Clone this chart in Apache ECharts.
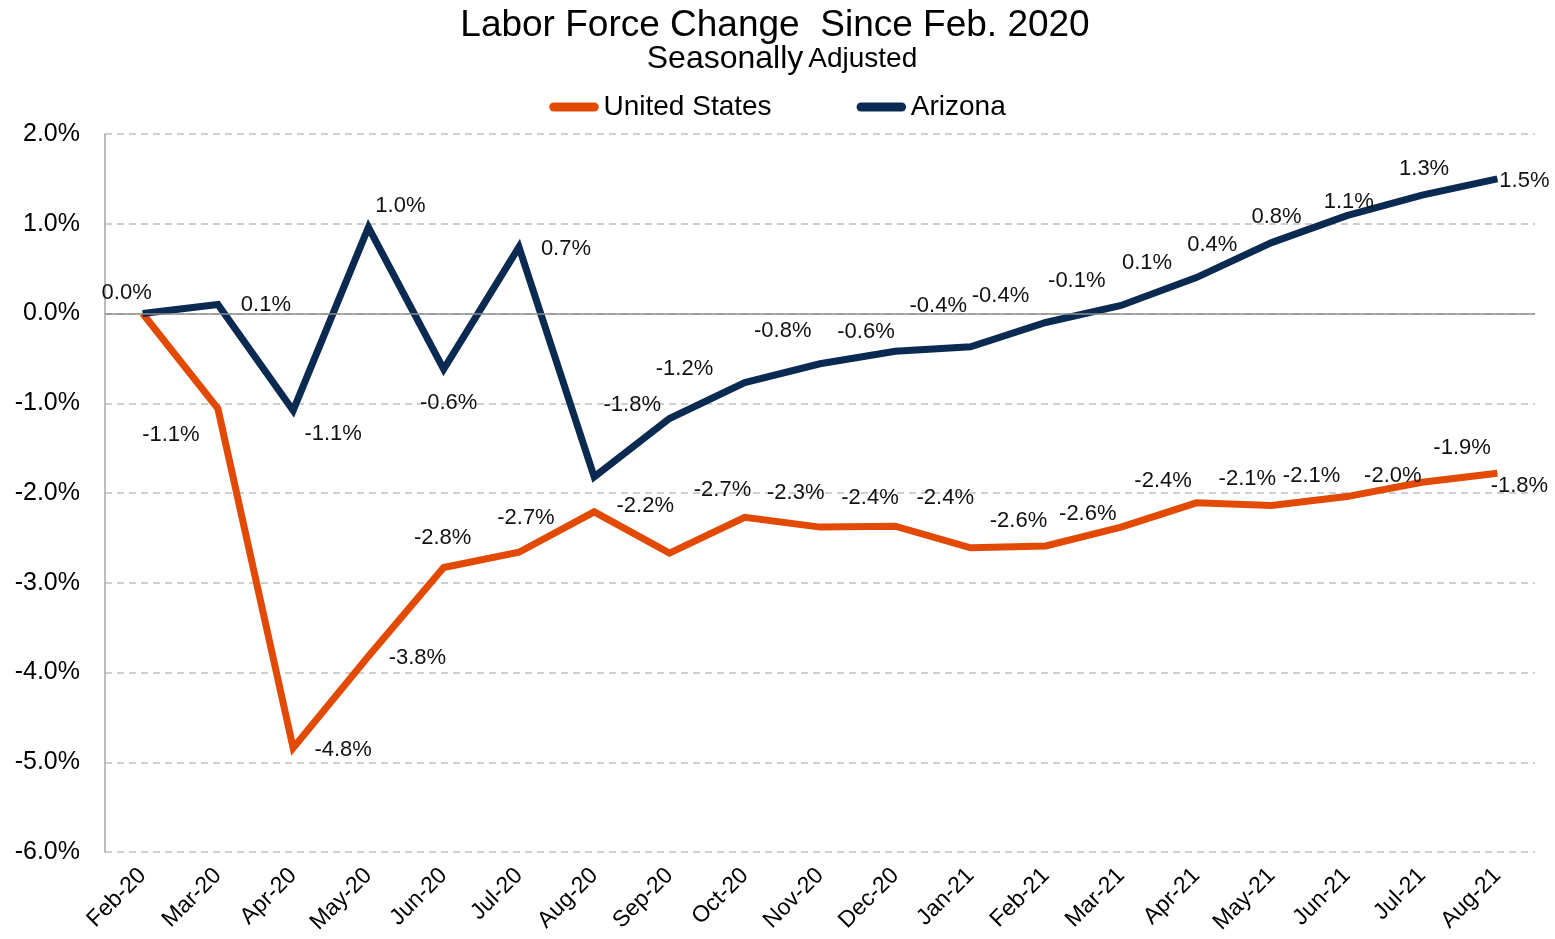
<!DOCTYPE html>
<html>
<head>
<meta charset="utf-8">
<script src="https://cdn.jsdelivr.net/npm/echarts@6/dist/echarts.min.js"></script>
<style>
  html, body { margin: 0; padding: 0; background: #fff; }
  #laborchart { width: 1555px; height: 939px; }
</style>
</head>
<body>
<div id="laborchart"></div>
<script>
var months = ['Feb-20', 'Mar-20', 'Apr-20', 'May-20', 'Jun-20', 'Jul-20', 'Aug-20', 'Sep-20', 'Oct-20', 'Nov-20',
    'Dec-20', 'Jan-21', 'Feb-21', 'Mar-21', 'Apr-21', 'May-21', 'Jun-21', 'Jul-21', 'Aug-21'];

// percent change in labor force since Feb. 2020
var usValues = [0, -1.06, -4.84, -3.82, -2.83, -2.66, -2.21, -2.67, -2.27, -2.38,
    -2.37, -2.61, -2.59, -2.38, -2.11, -2.14, -2.04, -1.88, -1.78];
var azValues = [0, 0.10, -1.08, 0.96, -0.62, 0.74, -1.82, -1.17, -0.77, -0.56,
    -0.42, -0.37, -0.10, 0.09, 0.40, 0.79, 1.09, 1.32, 1.50];

// where each data label sits, relative to its point (null = no label)
var usLabelOffsets = [null, [-47, 26], [50, 2], [49, 2], [-1, -30], [7, -34], [51, -6], [53, -63], [51, -24], [50, -29],
    [50, -28], [48, -27], [42, -32], [42, -46], [51, -24], [40, -30], [46, -21], [40, -34], [22, 13]];
var azLabelOffsets = [[-16, -21], [48, 0], [40, 24], [32, -21], [5, 34], [47, 2], [38, -72], [15, -50], [38, -52], [46, -32],
    [43, -45], [30, -51], [31, -42], [26, -42], [16, -33], [5, -26], [2, -14], [2, -26], [27, 2]];

var font = 'Liberation Sans, Arial, sans-serif';
var usColor = '#E24A04';
var azColor = '#0B2A52';

function withLabels(values, offsets) {
    return values.map(function (v, i) {
        var off = offsets[i];
        if (!off) {
            return { value: v, label: { show: false } };
        }
        return { value: v, label: { offset: off } };
    });
}

var chartDom = document.getElementById('laborchart');
var myChart = echarts.init(chartDom);
var option;

var pointLabel = {
    show: true,
    position: 'inside',
    align: 'center',
    verticalAlign: 'middle',
    fontFamily: font,
    fontSize: 22,
    color: '#111',
    formatter: function (p) {
        return p.value.toFixed(1) + '%';
    }
};

option = {
    animation: false,
    backgroundColor: '#fff',
    title: [
        {
            text: 'Labor Force Change  Since Feb. 2020',
            left: 770,
            top: 2,
            textAlign: 'center',
            textStyle: { fontFamily: font, fontSize: 37, fontWeight: 'normal', color: '#000' }
        },
        {
            text: '{a|Seasonally} {b|Adjusted}',
            left: 777,
            top: 38,
            textAlign: 'center',
            textStyle: {
                fontWeight: 'normal',
                rich: {
                    a: { fontFamily: font, fontSize: 32, fontWeight: 'normal', color: '#000' },
                    b: { fontFamily: font, fontSize: 28, fontWeight: 'normal', color: '#000' }
                }
            }
        }
    ],
    legend: {
        top: 88,
        left: 'center',
        itemWidth: 55,
        itemHeight: 9,
        itemGap: 85,
        icon: 'path://M5,0 L50,0 A5,5 0 0 1 50,10 L5,10 A5,5 0 0 1 5,0 Z',
        textStyle: { fontFamily: font, fontSize: 28, color: '#000', padding: [0, 0, 0, -3] },
        data: ['United States', 'Arizona']
    },
    grid: {
        left: 105,
        right: 20,
        top: 134,
        bottom: 87
    },
    xAxis: {
        type: 'category',
        data: months,
        boundaryGap: true,
        axisLine: { show: false },
        axisTick: { show: false },
        axisLabel: {
            rotate: 45,
            margin: 20,
            fontFamily: font,
            fontSize: 23,
            color: '#000'
        }
    },
    yAxis: {
        type: 'value',
        min: -6,
        max: 2,
        interval: 1,
        axisLine: { show: true, lineStyle: { color: '#A6A6A6', width: 1.5 } },
        axisTick: { show: false },
        axisLabel: {
            margin: 25,
            fontFamily: font,
            fontSize: 25,
            color: '#000',
            formatter: function (v) {
                return v.toFixed(1) + '%';
            }
        },
        splitLine: {
            show: true,
            lineStyle: { color: '#BFBFBF', width: 1.5, type: [7, 5] }
        }
    },
    series: [
        {
            name: 'United States',
            type: 'line',
            data: withLabels(usValues, usLabelOffsets),
            symbol: 'circle',
            symbolSize: 1,
            showSymbol: true,
            itemStyle: { color: usColor },
            lineStyle: { color: usColor, width: 7, join: 'miter' },
            label: pointLabel,
            markLine: {
                silent: true,
                symbol: 'none',
                label: { show: false },
                lineStyle: { color: '#8C8C8C', width: 1.5, type: 'solid' },
                data: [{ yAxis: 0 }]
            },
            z: 3
        },
        {
            name: 'Arizona',
            type: 'line',
            data: withLabels(azValues, azLabelOffsets),
            symbol: 'circle',
            symbolSize: 1,
            showSymbol: true,
            itemStyle: { color: azColor },
            lineStyle: { color: azColor, width: 7, join: 'miter' },
            label: pointLabel,
            z: 4
        }
    ]
};

option && myChart.setOption(option);
</script>
</body>
</html>
